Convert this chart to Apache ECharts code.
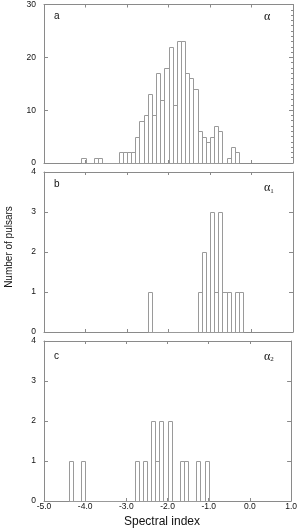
<!DOCTYPE html>
<html>
<head>
<meta charset="utf-8">
<script src="https://cdn.jsdelivr.net/npm/echarts@6/dist/echarts.min.js"></script>
<style>
html,body{margin:0;padding:0;background:#fff;}
#c{width:300px;height:530px;}
</style>
</head>
<body>
<div id="c"></div>
<script>
// ---- data (bin centres, bin width 0.1) ----
const binsA = [-4.05,-3.95,-3.85,-3.75,-3.65,-3.55,-3.45,-3.35,-3.25,-3.15,-3.05,-2.95,-2.85,-2.75,-2.65,-2.55,-2.45,-2.35,-2.25,-2.15,-2.05,-1.95,-1.85,-1.75,-1.65,-1.55,-1.45,-1.35,-1.25,-1.15,-1.05,-0.95,-0.85,-0.75,-0.65,-0.55,-0.45,-0.35];
const countsA = [1,0,0,1,1,0,0,0,0,2,2,2,2,5,8,9,13,9,17,12,18,22,11,23,23,17,16,14,6,5,4,5,7,6,0,1,3,2];

const binsB = [-2.45,-2.35,-2.25,-2.15,-2.05,-1.95,-1.85,-1.75,-1.65,-1.55,-1.45,-1.35,-1.25,-1.15,-1.05,-0.95,-0.85,-0.75,-0.65,-0.55,-0.45,-0.35,-0.25];
const countsB = [1,0,0,0,0,0,0,0,0,0,0,0,1,2,0,3,1,3,1,1,0,1,1];

const binsC = [-4.35,-4.25,-4.15,-4.05,-3.95,-3.85,-3.75,-3.65,-3.55,-3.45,-3.35,-3.25,-3.15,-3.05,-2.95,-2.85,-2.75,-2.65,-2.55,-2.45,-2.35,-2.25,-2.15,-2.05,-1.95,-1.85,-1.75,-1.65,-1.55,-1.45,-1.35,-1.25,-1.15,-1.05];
const countsC = [1,0,0,1,0,0,0,0,0,0,0,0,0,0,0,0,1,0,1,0,2,1,2,0,2,0,0,1,1,0,0,1,0,1];

const BIN_WIDTH = 0.1;
const xMin = -5, xMax = 1, xInterval = 1;
const yMaxA = 30, yIntervalA = 10;
const yMaxBC = 4, yIntervalBC = 1;
const panelLetters = ['a','b','c'];
const panelSymbols = ['α','α{s|1}','α{s|2}'];
const xLabel = 'Spectral index';
const yLabel = 'Number of pulsars';

// ---- styling ----
const AXIS_COLOR = '#8a8a8a';
const BAR_COLOR = '#9a9a9a';
const TEXT_COLOR = '#111';
const FONT = 'Liberation Sans, Arial, sans-serif';

const grids = [
  {left:44, width:249, top:3, height:160},
  {left:44, width:249, top:172, height:160},
  {left:44, width:249, top:341, height:160}
];

function renderItem(params, api){
  const x = api.value(0), y = api.value(1);
  const p0 = api.coord([x - BIN_WIDTH/2, y]);
  const p1 = api.coord([x + BIN_WIDTH/2, 0]);
  const x0 = Math.round(p0[0]) + 0.5, x1 = Math.round(p1[0]) + 0.5;
  const y0 = Math.round(p0[1]) + 0.5, y1 = Math.round(p1[1]) + 0.5;
  return {
    type:'rect',
    shape:{x:x0, y:y0, width:x1-x0, height:y1-y0},
    style:{fill:'none', stroke:BAR_COLOR, lineWidth:1}
  };
}

const xAxes = [], yAxes = [], series = [];
const panels = [[binsA,countsA],[binsB,countsB],[binsC,countsC]];
panels.forEach((p, i) => {
  const isLast = i === 2;
  const yMax = i === 0 ? yMaxA : yMaxBC;
  const yInt = i === 0 ? yIntervalA : yIntervalBC;
  xAxes.push({
    type:'value', gridIndex:i, min:xMin, max:xMax, interval:xInterval, position:'bottom',
    axisLine:{show:true, onZero:false, lineStyle:{color:AXIS_COLOR, width:1}},
    axisTick:{show:true, inside:true, length:3, lineStyle:{color:AXIS_COLOR}},
    axisLabel:{show:isLast, color:TEXT_COLOR, fontSize:8.5, fontFamily:FONT, margin:1,
      formatter: v => v.toFixed(1)},
    splitLine:{show:false}
  });
  xAxes.push({
    type:'value', gridIndex:i, min:xMin, max:xMax, interval:xInterval, position:'top',
    axisLine:{show:true, onZero:false, lineStyle:{color:AXIS_COLOR, width:1}},
    axisTick:{show:true, inside:true, length:3, lineStyle:{color:AXIS_COLOR}},
    axisLabel:{show:false}, splitLine:{show:false}
  });
  yAxes.push({
    type:'value', gridIndex:i, min:0, max:yMax, interval:yInt, position:'left',
    axisLine:{show:true, onZero:false, lineStyle:{color:AXIS_COLOR, width:1}},
    axisTick:{show:true, inside:true, length:4, lineStyle:{color:AXIS_COLOR}},
    axisLabel:{show:true, color:TEXT_COLOR, fontSize:8.5, fontFamily:FONT, margin:8},
    splitLine:{show:false}
  });
  yAxes.push({
    type:'value', gridIndex:i, min:0, max:yMax, interval:yInt, position:'right',
    axisLine:{show:true, onZero:false, lineStyle:{color:AXIS_COLOR, width:1}},
    axisTick:{show:true, inside:true, length:4, lineStyle:{color:AXIS_COLOR}},
    minorTick:{show:i===0, splitNumber:10, length:2, lineStyle:{color:AXIS_COLOR}},
    axisLabel:{show:false}, splitLine:{show:false}
  });
  series.push({
    type:'custom', xAxisIndex:2*i, yAxisIndex:2*i, renderItem:renderItem,
    data:p[0].map((b, k) => [b, p[1][k]]), silent:true, clip:false
  });
});

const graphics = [];
const letterY = [16.5, 184, 356.5];
const symY = [16.5, 188, 356.5];
panelLetters.forEach((t, i) => {
  graphics.push({type:'text', x:54, y:letterY[i],
    style:{text:t, fill:TEXT_COLOR, fontSize:10, fontFamily:FONT, verticalAlign:'middle'}});
  graphics.push({type:'text', x:264, y:symY[i],
    style:{text:panelSymbols[i], fill:TEXT_COLOR, fontSize:12, fontFamily:'Liberation Serif, serif', verticalAlign:'middle',
      rich:{s:{fontSize:7, fontFamily:'Liberation Serif, serif', fill:TEXT_COLOR, verticalAlign:'bottom', padding:[6,0,0,0]}}}});
});
graphics.push({type:'text', x:162, y:522,
  style:{text:xLabel, fill:TEXT_COLOR, fontSize:12, fontFamily:FONT, align:'center', verticalAlign:'middle'}});
graphics.push({type:'text', x:9, y:247, rotation:Math.PI/2,
  style:{text:yLabel, fill:TEXT_COLOR, fontSize:10, fontFamily:FONT, align:'center', verticalAlign:'middle'}});

const chart = echarts.init(document.getElementById('c'), null, {renderer:'canvas'});
chart.setOption({
  animation:false,
  grid:grids,
  xAxis:xAxes,
  yAxis:yAxes,
  series:series,
  graphic:graphics
});
</script>
</body>
</html>
